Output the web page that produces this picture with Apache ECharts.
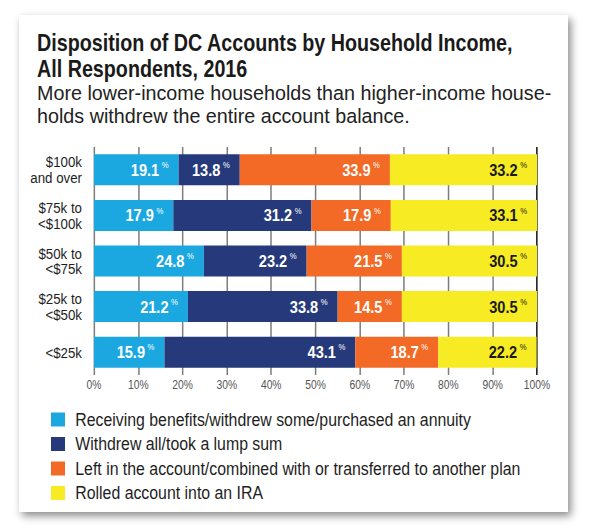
<!DOCTYPE html>
<html>
<head>
<meta charset="utf-8">
<script src="https://cdn.jsdelivr.net/npm/echarts@6/dist/echarts.min.js"></script>
<style>
  html, body { margin: 0; padding: 0; background: #fff; overflow: hidden; }
  #card {
    position: absolute; left: 19px; top: 15px; width: 549px; height: 497px;
    background: #fff; box-shadow: 3px 4px 8px rgba(0,0,0,0.45);
  }
  #chart { position: absolute; left: 0; top: 0; height: 532px; transform-origin: 0 0; }
</style>
</head>
<body>
<div id="card"></div>
<div id="chart"></div>
<script>
var FONT = '"Liberation Sans", Arial, sans-serif';
// the original uses a condensed face: draw on a wider canvas and squeeze it
var S = 0.8576;
var W = Math.round(590 / S);
function X(px) { return px / S; }

// income groups, top to bottom
var categories = ['$100k\nand over', '$75k to\n<$100k', '$50k to\n<$75k', '$25k to\n<$50k', '<$25k'];
// share of respondents, %
var benefits = [19.1, 17.9, 24.8, 21.2, 15.9];
var lumpSum = [13.8, 31.2, 23.2, 33.8, 43.1];
var leftInPlan = [33.9, 17.9, 21.5, 14.5, 18.7];
var rolledIRA = [33.2, 33.1, 30.5, 30.5, 22.2];
var seriesNames = [
  'Receiving benefits/withdrew some/purchased an annuity',
  'Withdrew all/took a lump sum',
  'Left in the account/combined with or transferred to another plan',
  'Rolled account into an IRA'
];
var colors = ['#1ba8e0', '#263a7b', '#f26a25', '#f7ec23'];
var labelColors = ['#fff', '#fff', '#fff', '#1a1a1a'];

var el = document.getElementById('chart');
el.style.width = W + 'px';
el.style.transform = 'scaleX(' + S + ')';

/* 每个系列 */
function makeSeries(name, data, i) {
  return {
    name: name,
    type: 'bar',
    stack: 'total',
    data: data,
    barWidth: 31,
    itemStyle: { color: colors[i] },
    label: {
      show: true,
      position: 'insideRight',
      distance: X(10),
      formatter: function (p) { return '{v|' + p.value.toFixed(1) + '}{p|%}'; },
      rich: {
        v: { fontFamily: FONT, fontSize: 17, fontWeight: 'bold', color: labelColors[i], lineHeight: 19 },
        p: { fontFamily: FONT, fontSize: 9, color: labelColors[i], verticalAlign: 'top', lineHeight: 10, padding: [0, 0, 0, 3] }
      }
    }
  };
}

var myChart = echarts.init(el, null, { renderer: 'svg', width: W, height: 532 });
var gridColors = [];
for (var k = 0; k < 10; k++) gridColors.push('#7d7d7d');
gridColors.push('#111');

var option = {
  backgroundColor: 'transparent',
  animation: false,
  title: {
    text: 'Disposition of DC Accounts by Household Income,\nAll Respondents, 2016',
    left: X(37), top: 31, padding: 0,
    textStyle: { fontFamily: FONT, fontSize: 23, fontWeight: 'bold', color: '#1a1a1a', lineHeight: 25.5 }
  },
  graphic: [{
    type: 'text',
    x: X(37), y: 82,
    scaleX: 1.18,
    style: {
      text: 'More lower-income households than higher-income house-\nholds withdrew the entire account balance.',
      fontFamily: FONT, fontSize: 19.5, lineHeight: 23, fill: '#222'
    }
  }],
  legend: {
    orient: 'vertical',
    left: X(51), top: 410, padding: 0,
    itemWidth: X(14), itemHeight: 14, itemGap: 5.5,
    icon: 'rect',
    data: seriesNames,
    textStyle: { fontFamily: FONT, fontSize: 18.5, color: '#1e1e1e', lineHeight: 18, padding: [0, 0, 0, 7] }
  },
  grid: { left: X(94), right: W - X(537), top: 147, bottom: 157 },
  xAxis: {
    type: 'value', min: 0, max: 100, interval: 10,
    axisLine: { show: false },
    axisTick: { show: false },
    axisLabel: { formatter: '{value}%', color: '#555', fontFamily: FONT, fontSize: 12, margin: 4 },
    splitLine: { show: true, lineStyle: { color: gridColors, width: 1.75 } }
  },
  yAxis: {
    type: 'category', inverse: true, data: categories,
    axisLine: { show: false },
    axisTick: { show: false },
    axisLabel: { color: '#1e1e1e', fontFamily: FONT, fontSize: 15.5, lineHeight: 15.5, margin: X(12), align: 'right' }
  },
  series: [
    makeSeries(seriesNames[0], benefits, 0),
    makeSeries(seriesNames[1], lumpSum, 1),
    makeSeries(seriesNames[2], leftInPlan, 2),
    makeSeries(seriesNames[3], rolledIRA, 3)
  ]
};
myChart.setOption(option);
</script>
</body>
</html>
